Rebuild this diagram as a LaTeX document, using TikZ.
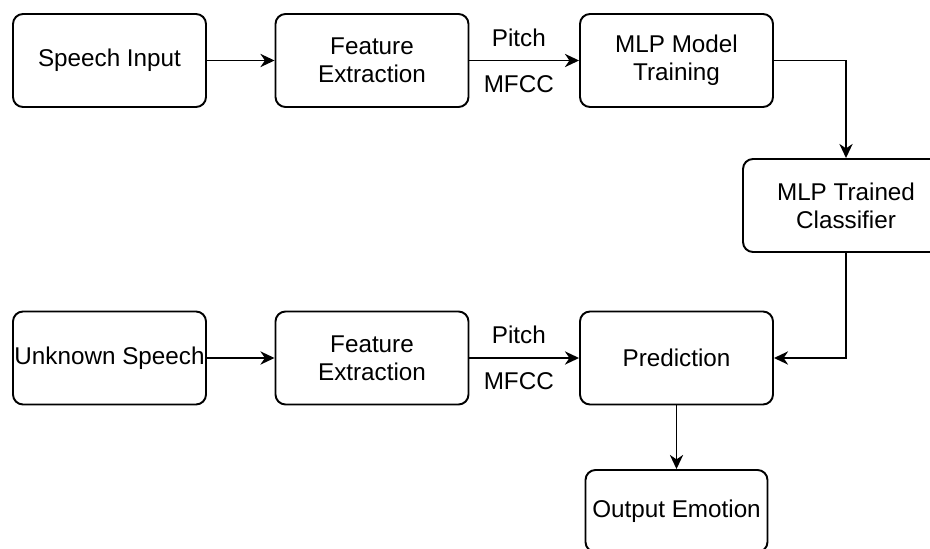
\documentclass[tikz,border=0pt]{standalone}
\usepackage{fontspec}
\setmainfont{Liberation Sans}
\usetikzlibrary{arrows.meta,positioning}
\tikzset{
  procbox/.style={draw, line width=1.1pt, rounded corners=0.2cm, minimum width=3.86cm,
    minimum height=1.86cm, inner xsep=0.5pt, inner ysep=2pt, align=center,
    font=\fontsize{13.8}{16}\selectfont},
  flow/.style={-{Stealth[length=8pt,width=7.5pt,inset=2.5pt]}, line width=1.1pt},
  feat/.style={font=\fontsize{13.8}{16}\selectfont}
}

\begin{document}
\begin{tikzpicture}
  \clip (0,0) rectangle (18.6,-10.98);

  % Training path
  \node[procbox] (speech) at (2.19,-1.21) {Speech Input};
  \node[procbox] (feattrain) at (7.44,-1.21) {Feature\\Extraction};
  \node[procbox] (train) at (13.53,-1.21) {MLP Model\\Training};
  \node[procbox, minimum width=4.12cm] (clf) at (16.92,-4.11) {MLP Trained\\Classifier};

  % Test path
  \node[procbox] (unknown) at (2.19,-7.16) {Unknown Speech};
  \node[procbox] (feattest) at (7.44,-7.16) {Feature\\Extraction};
  \node[procbox] (pred) at (13.53,-7.16) {Prediction};
  \node[procbox, minimum width=3.64cm, minimum height=1.64cm] (out) at (13.53,-10.22) {Output Emotion};

  % Connectors
  \draw[flow] (speech) -- (feattrain);
  \draw[flow] (feattrain) -- node[feat, pos=0.45, above=4pt] {Pitch}
    node[feat, pos=0.45, below=4.5pt] {MFCC} (train);
  \draw[flow] (train.east) -| (clf.north);
  \draw[flow] (unknown) -- (feattest);
  \draw[flow] (feattest) -- node[feat, pos=0.45, above=4pt] {Pitch}
    node[feat, pos=0.45, below=4.5pt] {MFCC} (pred);
  \draw[flow] (clf.south) |- (pred.east);
  \draw[flow] (pred) -- (out);
\end{tikzpicture}
\end{document}
